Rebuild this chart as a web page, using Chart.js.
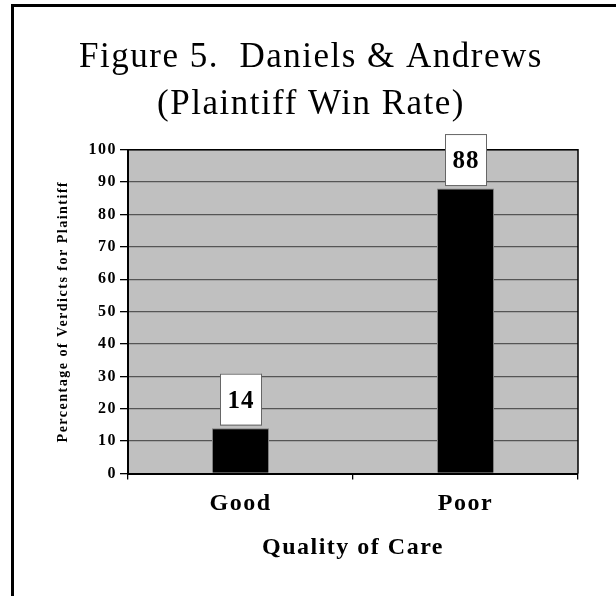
<!DOCTYPE html>
<html>
<head>
<meta charset="utf-8">
<script src="https://cdn.jsdelivr.net/npm/chart.js@4/dist/chart.umd.min.js"></script>
<style>
  html, body { margin: 0; padding: 0; background: #fff; }
  #wrap { position: relative; width: 616px; height: 596px; overflow: hidden; }
  #frame { position: absolute; left: 11px; top: 4px; right: -10px; bottom: -10px;
           border-left: 3px solid #000; border-top: 3px solid #000; }
  canvas { position: absolute; left: 0; top: 0; }
</style>
</head>
<body>
<div id="wrap">
  <div id="frame"></div>
  <canvas id="c" width="616" height="596"></canvas>
</div>
<script>
// ---- data ----
const titleLines = ['Figure 5.  Daniels & Andrews', '(Plaintiff Win Rate)'];
const categories = ['Good', 'Poor'];
const winRates = [14, 88];
const yTitle = 'Percentage of Verdicts for Plaintiff';
const xTitle = 'Quality of Care';

const SERIF = '"Liberation Serif", "Times New Roman", serif';
Chart.defaults.color = '#000';

const spacingPlugin = {
  id: 'spacing',
  beforeUpdate(chart) { chart.ctx.letterSpacing = '1.5px'; },
  beforeDraw(chart) { chart.ctx.letterSpacing = '1.5px'; }
};

const plotBg = {
  id: 'plotBg',
  beforeDraw(chart) {
    const {ctx, chartArea: a} = chart;
    ctx.save();
    ctx.fillStyle = '#c0c0c0';
    ctx.fillRect(a.left, a.top, a.right - a.left, a.bottom - a.top);
    ctx.restore();
  },
  beforeDatasetsDraw(chart) {
    const {ctx, chartArea: a} = chart;
    ctx.save();
    ctx.strokeStyle = '#000';
    ctx.lineWidth = 1.5;
    ctx.beginPath();
    ctx.moveTo(a.left, a.top);
    ctx.lineTo(a.right, a.top);
    ctx.lineTo(a.right, a.bottom);
    ctx.stroke();
    ctx.restore();
  }
};

const labelBoxes = {
  id: 'labelBoxes',
  afterDatasetsDraw(chart) {
    const ctx = chart.ctx;
    const meta = chart.getDatasetMeta(0);
    meta.data.forEach((bar, i) => {
      const v = chart.data.datasets[0].data[i];
      const w = 41, h = 51;
      const bottom = bar.y - 3.5;
      ctx.save();
      ctx.fillStyle = '#fff';
      ctx.fillRect(bar.x - w / 2, bottom - h, w, h);
      ctx.strokeStyle = '#666';
      ctx.lineWidth = 1;
      ctx.strokeRect(bar.x - w / 2 + 0.5, bottom - h + 0.5, w, h);
      ctx.fillStyle = '#000';
      ctx.font = 'bold 25px ' + SERIF;
      ctx.textAlign = 'center';
      ctx.textBaseline = 'middle';
      ctx.letterSpacing = '1px';
      ctx.fillText(String(v), bar.x + 0.5, bottom - h / 2 + 2);
      ctx.restore();
    });
  }
};

new Chart(document.getElementById('c'), {
  type: 'bar',
  data: {
    labels: categories,
    datasets: [{
      data: winRates,
      backgroundColor: '#000',
      borderColor: '#808080',
      borderWidth: 1,
      barPercentage: 0.2533,
      categoryPercentage: 1
    }]
  },
  options: {
    responsive: false,
    animation: false,
    devicePixelRatio: 1,
    layout: { padding: { left: 44, right: 38, top: 0, bottom: 0 } },
    plugins: {
      legend: { display: false },
      tooltip: { enabled: false },
      title: {
        display: true,
        text: titleLines,
        color: '#000',
        font: { family: SERIF, size: 35, weight: 'normal', lineHeight: 47 / 35 },
        padding: { top: 34.7, bottom: 21 }
      }
    },
    scales: {
      y: {
        min: 0, max: 100,
        ticks: { stepSize: 10, padding: 3, font: { family: SERIF, size: 16, weight: 'bold' }, color: '#000' },
        grid: { color: '#555', lineWidth: 1.3, tickColor: '#000', tickLength: 8 },
        border: { color: '#000', width: 2 },
        title: {
          display: true, text: yTitle, color: '#000',
          font: { family: SERIF, size: 14, weight: 'bold' },
          padding: { top: 10.6, bottom: 0 }
        },
        afterFit(scale) { scale.width = 84; }
      },
      x: {
        ticks: { padding: 9.7, font: { family: SERIF, size: 24, weight: 'bold' }, color: '#000' },
        grid: { drawOnChartArea: false, tickColor: '#000', tickLength: 6, offset: true, lineWidth: 1.3 },
        border: { color: '#000', width: 2 },
        title: {
          display: true, text: xTitle, color: '#000',
          font: { family: SERIF, size: 24, weight: 'bold' },
          padding: { top: 0, bottom: 33.6 }
        },
        afterFit(scale) { scale.height = 122.5; }
      }
    }
  },
  plugins: [spacingPlugin, plotBg, labelBoxes]
});
</script>
</body>
</html>
